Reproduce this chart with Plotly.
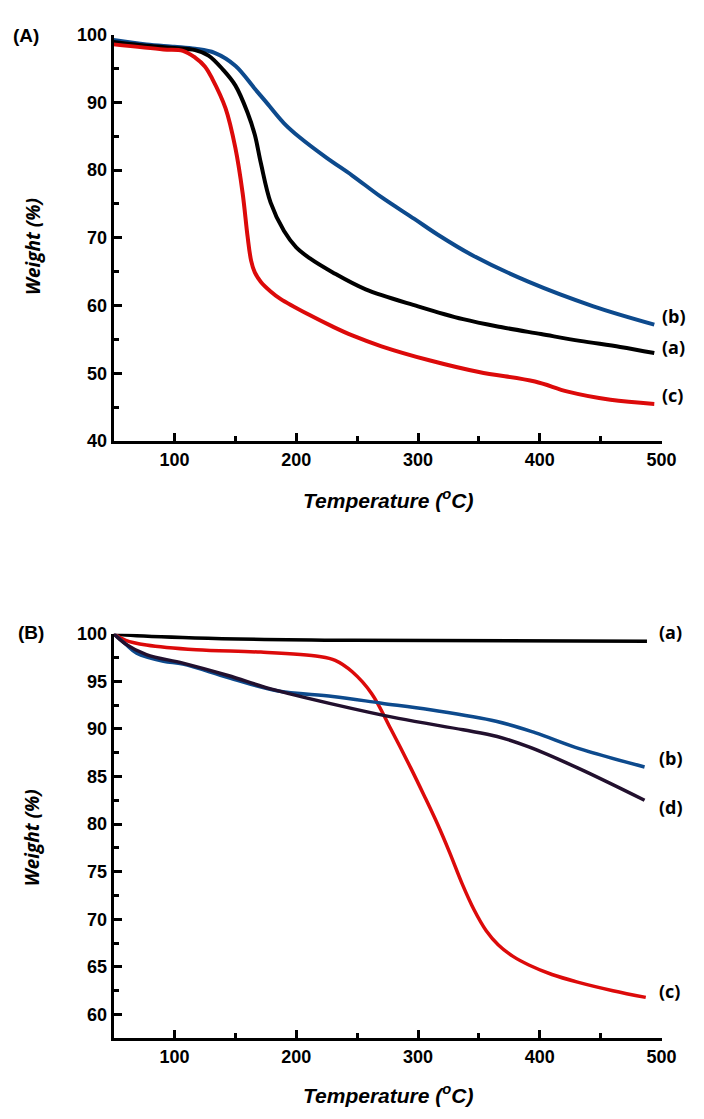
import plotly.graph_objects as go

# ---------------- Panel (A): TGA curves ----------------
temp_A_a = [50, 80, 100, 117, 128, 140, 150, 160, 166, 171, 179, 190, 200, 211, 230, 257, 300, 337, 369, 401, 433, 466, 494]
weight_A_a = [98.9, 98.3, 98.0, 97.7, 96.9, 94.8, 92.5, 88.5, 85.2, 81.0, 75.2, 71.0, 68.6, 67.0, 64.9, 62.4, 59.9, 58.0, 56.8, 55.8, 54.8, 53.9, 53.0]

temp_A_b = [50, 77, 100, 117, 133, 150, 166, 175, 190, 203, 225, 246, 270, 297, 316, 345, 391, 444, 494]
weight_A_b = [99.2, 98.55, 98.2, 97.9, 97.3, 95.4, 92.0, 90.1, 86.9, 84.8, 81.8, 79.2, 76.0, 72.8, 70.5, 67.4, 63.5, 59.9, 57.2]

temp_A_c = [50, 91, 107, 117, 125, 131, 142, 150, 156, 160, 163, 166, 171, 179, 187, 211, 230, 246, 270, 310, 350, 396, 423, 458, 494]
weight_A_c = [98.55, 97.8, 97.6, 96.6, 95.3, 93.5, 89.1, 83.3, 76.6, 70.3, 66.6, 64.9, 63.5, 62.1, 61.0, 58.6, 56.9, 55.6, 54.0, 51.9, 50.2, 48.8, 47.3, 46.1, 45.5]

# ---------------- Panel (B): TGA curves ----------------
temp_B_a = [50, 60, 117, 246, 488]
weight_B_a = [100.0, 99.85, 99.55, 99.3, 99.2]

temp_B_b = [50, 60, 69, 91, 107, 144, 184, 230, 270, 310, 364, 396, 433, 486]
weight_B_b = [100.0, 98.9, 97.95, 97.1, 96.8, 95.4, 94.0, 93.4, 92.7, 92.0, 90.8, 89.6, 87.9, 86.0]

temp_B_c = [50, 60, 77, 118, 171, 219, 232, 246, 262, 278, 294, 305, 316, 326, 336, 346, 356, 366, 378, 391, 410, 431, 460, 487]
weight_B_c = [100.0, 99.3, 98.8, 98.3, 98.06, 97.6, 97.2, 96.0, 93.7, 89.9, 85.9, 83.0, 80.0, 77.0, 73.8, 71.0, 68.8, 67.3, 66.1, 65.2, 64.2, 63.4, 62.5, 61.8]

temp_B_d = [50, 60, 77, 107, 144, 179, 230, 284, 337, 365, 391, 431, 486]
weight_B_d = [100.0, 98.9, 97.8, 96.9, 95.6, 94.2, 92.6, 91.1, 89.9, 89.2, 88.1, 85.9, 82.5]

x_major = [100, 200, 300, 400, 500]
x_minor = [150, 250, 350, 450]
yA_major = [40, 50, 60, 70, 80, 90, 100]
yA_minor = [45, 55, 65, 75, 85, 95]
yB_major = [60, 65, 70, 75, 80, 85, 90, 95, 100]
yB_minor = [62.5, 67.5, 72.5, 77.5, 82.5, 87.5, 92.5, 97.5]

BLACK = "#000000"
BLUE = "#0d4a8d"
RED = "#dc0a0a"
PURPLE = "#22102e"

W, H = 704, 1119


def px_x(p):
    return p / W


def px_y(p):
    return 1 - p / H


fig = go.Figure()


def add_curve(x, y, color, width, xa, ya):
    fig.add_trace(go.Scatter(
        x=x, y=y, mode="lines",
        line=dict(color=color, width=width, shape="spline", smoothing=1.0),
        xaxis=xa, yaxis=ya, showlegend=False, hoverinfo="skip"))


add_curve(temp_A_b, weight_A_b, BLUE, 4, "x", "y")
add_curve(temp_A_a, weight_A_a, BLACK, 4, "x", "y")
add_curve(temp_A_c, weight_A_c, RED, 4, "x", "y")

add_curve(temp_B_a, weight_B_a, BLACK, 3.5, "x2", "y2")
add_curve(temp_B_c, weight_B_c, RED, 3.5, "x2", "y2")
add_curve(temp_B_b, weight_B_b, BLUE, 3.5, "x2", "y2")
add_curve(temp_B_d, weight_B_d, PURPLE, 3.5, "x2", "y2")

tick_font = dict(family="Liberation Sans, Arial", size=18, color="black", weight="bold")


def axis_style(tickvals, minor_vals, rng, domain, anchor):
    return dict(
        range=rng, domain=domain, anchor=anchor,
        showline=True, linewidth=3, linecolor="black",
        showgrid=False, zeroline=False,
        ticks="inside", ticklen=8, tickwidth=2.5, tickcolor="black",
        tickmode="array", tickvals=tickvals, ticktext=[str(v) for v in tickvals],
        tickfont=tick_font,
        minor=dict(tickmode="array", tickvals=minor_vals, ticks="inside",
                   ticklen=5, tickwidth=2.5, tickcolor="black", showgrid=False),
    )


x_dom = [px_x(116), px_x(676)]
yA_dom = [px_y(439), px_y(25)]
yB_dom = [px_y(1047), px_y(635)]

fig.update_layout(
    width=W, height=H,
    margin=dict(l=0, r=0, t=0, b=0),
    paper_bgcolor="white", plot_bgcolor="white",
    xaxis=axis_style(x_major, x_minor, [50, 500], x_dom, "y"),
    yaxis=axis_style(yA_major, yA_minor, [40, 100], yA_dom, "x"),
    xaxis2=axis_style(x_major, x_minor, [50, 500], x_dom, "y2"),
    yaxis2=axis_style(yB_major, yB_minor, [57.5, 100], yB_dom, "x2"),
)

annotations = []


def label(text, x, y, font, xanchor="center", angle=0):
    annotations.append(dict(
        text=text, x=px_x(x), y=px_y(y), xref="paper", yref="paper",
        xanchor=xanchor, yanchor="middle", showarrow=False,
        textangle=angle, font=font))


panel_font = dict(family="Liberation Sans, Arial", size=19, color="black", weight="bold")
curve_font = dict(family="Open Sans", size=18, color="black", weight="bold")
ytitle_font = dict(family="Open Sans", size=19, color="black", weight="bold", style="italic")
xtitle_font = dict(family="Liberation Sans, Arial", size=21, color="black", weight="bold", style="italic")

label("(A)", 11, 26, panel_font, xanchor="left")
label("(B)", 16, 634, panel_font, xanchor="left")

label("Weight (%)", 33, 241, ytitle_font, angle=-90)
label("Weight (%)", 33, 843, ytitle_font, angle=-90)
label("Temperature (<sup>o</sup>C)", 396, 498, xtitle_font)
label("Temperature (<sup>o</sup>C)", 396, 1104, xtitle_font)

label("(b)", 674, 312, curve_font, xanchor="left")
label("(a)", 674, 343, curve_font, xanchor="left")
label("(c)", 674, 392, curve_font, xanchor="left")

label("(a)", 671, 633, curve_font, xanchor="left")
label("(b)", 671, 762, curve_font, xanchor="left")
label("(d)", 671, 811, curve_font, xanchor="left")
label("(c)", 671, 999, curve_font, xanchor="left")

fig.update_layout(annotations=annotations)

fig.write_html("out.html")
